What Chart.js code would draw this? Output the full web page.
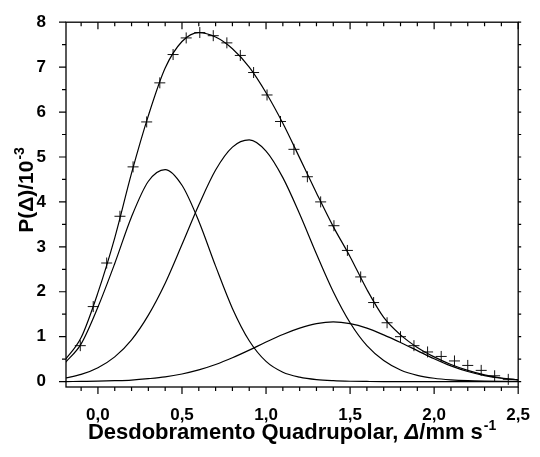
<!DOCTYPE html>
<html><head><meta charset="utf-8">
<script src="https://cdn.jsdelivr.net/npm/chart.js@4/dist/chart.umd.min.js"></script>
<style>html,body{margin:0;padding:0;background:#fff}#wrap{width:540px;height:457px}</style>
</head><body><div id="wrap"><canvas id="c" width="540" height="457"></canvas></div>
<script>
// curve sampling positions (Δ, mm/s)
const gridX  = [-0.2,-0.1,0.0,0.1,0.2,0.3,0.4,0.5,0.6,0.7,0.8,0.9,1.0,1.1,1.2,1.3,1.4,1.5,1.6,1.7,1.8,1.9,2.0,2.1,2.2,2.3,2.4,2.5];
// fitted total distribution
const fitTotal = [0.46,0.98,1.98,3.20,4.64,5.92,6.98,7.57,7.77,7.67,7.41,7.00,6.43,5.75,4.98,4.20,3.45,2.78,2.05,1.43,1.04,0.76,0.55,0.38,0.25,0.15,0.08,0.04];
// component 1 (peak ~0.39)
const comp1 = [0.40,0.84,1.66,2.63,3.67,4.46,4.72,4.37,3.57,2.57,1.63,0.91,0.45,0.21,0.10,0.045,0.02,0.008,0.003,0,0,0,0,0,0,0,0,0];
// component 2 (peak ~0.89)
const comp2 = [0.075,0.16,0.31,0.55,0.93,1.48,2.19,3.05,3.93,4.71,5.22,5.38,5.13,4.54,3.73,2.84,2.0,1.31,0.80,0.47,0.26,0.14,0.075,0.04,0.02,0.01,0.005,0.003];
// component 3 (peak ~1.40)
const comp3 = [0.0,0.005,0.01,0.02,0.035,0.065,0.105,0.17,0.26,0.38,0.53,0.70,0.88,1.05,1.19,1.29,1.33,1.29,1.19,1.04,0.87,0.69,0.51,0.35,0.225,0.135,0.075,0.04];
// experimental points
const expX = [-0.105,-0.028,0.052,0.131,0.209,0.290,0.368,0.447,0.525,0.606,0.686,0.767,0.847,0.926,1.006,1.086,1.166,1.246,1.325,1.404,1.484,1.563,1.640,1.720,1.800,1.880,1.961,2.042,2.121,2.200,2.280,2.360,2.441];
const expY = [0.80,1.67,2.64,3.68,4.78,5.78,6.65,7.28,7.65,7.77,7.70,7.54,7.26,6.88,6.38,5.79,5.17,4.56,4.00,3.47,2.92,2.33,1.76,1.31,1.00,0.80,0.66,0.56,0.46,0.36,0.25,0.13,0.05];
// axis ticks
const xTicks = [0,0.5,1.0,1.5,2.0,2.5];
const yTicks = [0,1,2,3,4,5,6,7,8];
const xTitleParts = ['Desdobramento Quadrupolar, ', 'Δ', '/mm s', '-1'];
const yTitleParts = ['P(Δ)/10', '-3'];

const FONT = '"Liberation Sans", Arial, sans-serif';
const pts = (xs, ys) => xs.map((x, i) => ({x: x, y: ys[i]}));
const lineDs = (ys) => ({data: pts(gridX, ys), borderColor: '#000', borderWidth: 1.2, pointRadius: 0,
  cubicInterpolationMode: 'monotone', fill: false});

const frame = {
  id: 'frame',
  afterDraw(chart) {
    const ctx = chart.ctx, a = chart.chartArea;
    const xs = chart.scales.x, ys = chart.scales.y;
    ctx.save();
    ctx.strokeStyle = '#000';
    ctx.lineWidth = 1.3;
    ctx.strokeRect(a.left, a.top, a.right - a.left, a.bottom - a.top);
    ctx.lineWidth = 1.2;
    ctx.beginPath();
    for (let i = -1; i <= 25; i++) {
      const px = xs.getPixelForValue(i / 10);
      if (px < a.left - 0.5 || px > a.right + 0.5) continue;
      const L = (i % 5 === 0) ? 7 : 4;
      ctx.moveTo(px, a.bottom); ctx.lineTo(px, a.bottom + L);
      ctx.moveTo(px, a.top); ctx.lineTo(px, a.top + L);
    }
    for (let i = 0; i <= 16; i++) {
      const py = ys.getPixelForValue(i / 2);
      const L = (i % 2 === 0) ? 7 : 4;
      ctx.moveTo(a.left, py); ctx.lineTo(a.left - L, py);
      ctx.moveTo(a.right, py); ctx.lineTo(a.right + 3, py);
    }
    ctx.stroke();
    ctx.fillStyle = '#000';
    ctx.textBaseline = 'alphabetic';
    // x title
    const big = 'bold 22px ' + FONT, bigI = 'italic bold 22px ' + FONT, sup = 'bold 14px ' + FONT;
    ctx.font = big; const w0 = ctx.measureText(xTitleParts[0]).width;
    ctx.font = bigI; const w1 = ctx.measureText(xTitleParts[1]).width;
    ctx.font = big; const w2 = ctx.measureText(xTitleParts[2]).width;
    ctx.font = sup; const w3 = ctx.measureText(xTitleParts[3]).width;
    let x = (a.left + a.right) / 2 - (w0 + w1 + w2 + w3 + 1) / 2;
    const by = 439;
    ctx.font = big; ctx.fillText(xTitleParts[0], x, by); x += w0;
    ctx.font = bigI; ctx.fillText(xTitleParts[1], x, by); x += w1;
    ctx.font = big; ctx.fillText(xTitleParts[2], x, by); x += w2 + 1;
    ctx.font = sup; ctx.fillText(xTitleParts[3], x, by - 9);
    // y title
    ctx.translate(33, 190);
    ctx.rotate(-Math.PI / 2);
    const yf = 'bold 21px ' + FONT;
    ctx.font = yf; const v0 = ctx.measureText(yTitleParts[0]).width;
    ctx.font = sup; const v1 = ctx.measureText(yTitleParts[1]).width;
    let t = -(v0 + v1 + 1) / 2;
    ctx.font = yf; ctx.fillText(yTitleParts[0], t, 0); t += v0 + 1;
    ctx.font = sup; ctx.fillText(yTitleParts[1], t, -9);
    ctx.restore();
  }
};

new Chart(document.getElementById('c'), {
  type: 'line',
  data: {
    datasets: [
      lineDs(fitTotal), lineDs(comp1), lineDs(comp2), lineDs(comp3),
      {data: pts(expX, expY), showLine: false, pointStyle: 'cross', pointRadius: 5.5,
        pointBorderWidth: 1, borderColor: '#111', backgroundColor: '#111'}
    ]
  },
  options: {
    responsive: false, animation: false, devicePixelRatio: 1,
    layout: {padding: {top: 15, right: 17, left: 0, bottom: 0}},
    plugins: {legend: {display: false}, tooltip: {enabled: false}},
    scales: {
      x: {
        type: 'linear', min: -0.19, max: 2.5,
        grid: {display: false}, border: {display: false},
        afterBuildTicks: s => { s.ticks = xTicks.map(v => ({value: v})); },
        afterFit: s => { s.height = 70; },
        ticks: {color: '#000', padding: 10, maxRotation: 0, autoSkip: false,
          font: {family: FONT, size: 17, weight: 'bold'},
          callback: v => v.toFixed(1).replace('.', ',')}
      },
      y: {
        type: 'linear', min: -0.12, max: 8,
        grid: {display: false}, border: {display: false},
        afterBuildTicks: s => { s.ticks = yTicks.map(v => ({value: v})); },
        afterFit: s => { s.width = 66; },
        ticks: {color: '#000', padding: 12, autoSkip: false,
          font: {family: FONT, size: 17, weight: 'bold'},
          callback: v => String(v)}
      }
    }
  },
  plugins: [frame]
});
</script></body></html>
